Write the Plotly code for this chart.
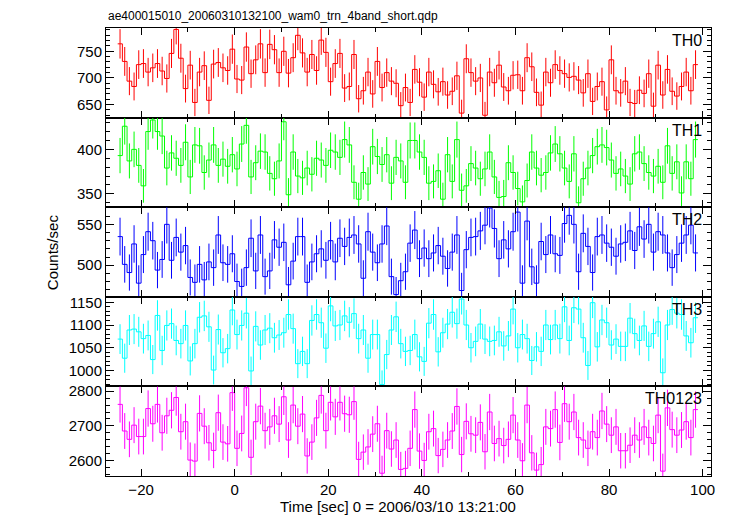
import numpy as np
import plotly.graph_objects as go
from plotly.subplots import make_subplots

# 1-s time bins (left edges, sec from 2006/03/10 13:21:00)
bin_start = list(range(-25, 99))

th0 = [764, 731, 694, 684, 725, 727, 711, 719, 727, 713,
       699, 746, 791, 737, 680, 724, 654, 711, 723, 658,
       726, 729, 719, 714, 754, 698, 696, 758, 708, 734,
       764, 710, 763, 753, 710, 750, 709, 738, 780, 747,
       711, 744, 714, 771, 748, 693, 727, 746, 681, 684,
       744, 661, 676, 711, 670, 731, 682, 710, 694, 690,
       648, 682, 654, 716, 692, 664, 711, 688, 674, 693,
       668, 675, 704, 634, 736, 710, 694, 700, 630, 711,
       691, 724, 683, 676, 705, 706, 676, 738, 721, 673,
       649, 711, 691, 725, 714, 708, 701, 703, 696, 672,
       708, 656, 684, 693, 640, 734, 676, 672, 694, 654,
       652, 677, 671, 708, 647, 724, 668, 716, 675, 666,
       684, 711, 676, 725]

th1 = [393, 426, 387, 400, 382, 359, 420, 433, 420, 415,
       379, 396, 390, 382, 408, 369, 405, 404, 374, 388,
       405, 382, 389, 381, 394, 378, 406, 427, 369, 385,
       398, 397, 373, 367, 387, 431, 349, 397, 370, 368,
       379, 372, 390, 388, 382, 399, 397, 391, 411, 405,
       363, 344, 374, 361, 403, 392, 383, 394, 362, 391,
       387, 363, 410, 410, 397, 391, 362, 364, 376, 344,
       394, 364, 411, 354, 359, 384, 379, 367, 378, 397,
       369, 346, 347, 385, 374, 356, 341, 365, 397, 379,
       371, 374, 396, 406, 395, 379, 364, 395, 340, 367,
       379, 393, 403, 405, 402, 388, 373, 378, 370, 361,
       395, 397, 384, 374, 370, 381, 363, 404, 373, 386,
       351, 386, 367, 411]

th2 = [535, 501, 491, 526, 478, 513, 541, 530, 494, 507,
       550, 506, 534, 516, 524, 485, 479, 501, 482, 504,
       497, 537, 503, 501, 514, 480, 474, 497, 533, 493,
       537, 486, 493, 531, 522, 528, 476, 505, 535, 535,
       479, 504, 514, 520, 506, 530, 504, 533, 523, 534,
       537, 526, 484, 541, 516, 503, 526, 548, 486, 464,
       481, 492, 527, 543, 508, 521, 508, 515, 524, 511,
       496, 516, 537, 469, 519, 534, 535, 542, 549, 570,
       545, 508, 531, 520, 541, 565, 478, 554, 498, 478,
       529, 513, 537, 514, 512, 551, 561, 550, 492, 539,
       523, 491, 535, 537, 527, 522, 511, 526, 528, 542,
       518, 547, 532, 550, 516, 541, 537, 515, 497, 513,
       527, 537, 549, 515]

th3 = [1069, 1027, 1089, 1091, 1085, 1070, 1077, 1024, 1121, 1044,
       1099, 1103, 1066, 1059, 1099, 1021, 1059, 1117, 1120, 1096,
       1001, 1090, 1039, 1048, 1133, 1079, 1099, 1126, 999, 1097,
       1056, 1089, 1093, 1072, 1078, 1083, 1123, 1092, 1015, 1042,
       1015, 1110, 1123, 1105, 1049, 1142, 1098, 1100, 1120, 1106,
       1125, 1070, 1089, 1027, 1079, 1079, 969, 1035, 1089, 1118,
       1059, 1042, 1044, 1079, 1030, 1020, 1104, 1123, 1041, 1083,
       1102, 1128, 1103, 1157, 1100, 1050, 1064, 1102, 1069, 1064,
       1066, 1085, 1054, 1076, 1135, 1050, 1079, 1070, 1022, 1052,
       1042, 1100, 1068, 1100, 1070, 1140, 1066, 1138, 1135, 1072,
       1011, 1149, 1052, 1111, 1105, 1056, 1069, 1053, 1053, 1115,
       1081, 1066, 1098, 1053, 1081, 1107, 995, 1100, 1134, 1126,
       1123, 1076, 1061, 1116]

th0123 = [2762, 2685, 2661, 2702, 2669, 2669, 2750, 2706, 2762, 2680,
          2729, 2745, 2782, 2683, 2712, 2601, 2598, 2736, 2699, 2651,
          2629, 2738, 2653, 2648, 2796, 2635, 2678, 2810, 2609, 2712,
          2757, 2686, 2697, 2729, 2705, 2784, 2659, 2760, 2699, 2734,
          2613, 2653, 2723, 2788, 2686, 2768, 2726, 2768, 2735, 2732,
          2770, 2603, 2624, 2639, 2676, 2706, 2563, 2686, 2633, 2659,
          2574, 2577, 2635, 2747, 2627, 2600, 2683, 2692, 2614, 2632,
          2659, 2685, 2756, 2617, 2713, 2677, 2673, 2710, 2625, 2740,
          2649, 2663, 2643, 2661, 2731, 2659, 2599, 2760, 2622, 2572,
          2588, 2697, 2692, 2747, 2652, 2764, 2712, 2740, 2666, 2659,
          2635, 2683, 2666, 2743, 2705, 2673, 2697, 2628, 2628, 2644,
          2673, 2659, 2697, 2666, 2649, 2731, 2569, 2752, 2689, 2673,
          2688, 2712, 2666, 2747]

panel_names = ["TH0", "TH1", "TH2", "TH3", "TH0123"]
panel_values = [th0, th1, th2, th3, th0123]
panel_colors = ["#ff0000", "#00ff00", "#0000ff", "#00ffff", "#ff00ff"]
y_ranges = [[625.6, 793.7], [335.0, 435.7], [461.3, 571.0], [965.0, 1162.0], [2555.0, 2814.0]]
y_major = [50, 50, 50, 50, 100]
y_minor = [10, 10, 10, 10, 20]

FONT = "Liberation Sans, Arial, Helvetica, sans-serif"

fig = make_subplots(rows=5, cols=1, shared_xaxes=True, vertical_spacing=0)

edges = bin_start + [bin_start[-1] + 1]
centers = [b + 0.5 for b in bin_start]

for i, (name, vals, color) in enumerate(zip(panel_names, panel_values, panel_colors), start=1):
    fig.add_trace(go.Scatter(x=edges, y=vals + [vals[-1]], mode="lines",
                             line=dict(shape="hv", color=color, width=1),
                             hoverinfo="skip", showlegend=False), row=i, col=1)
    err = np.sqrt(np.array(vals, dtype=float))
    fig.add_trace(go.Scatter(x=centers, y=vals, mode="markers",
                             marker=dict(size=1, color=color, opacity=0),
                             error_y=dict(type="data", array=err, color=color,
                                          thickness=1, width=0),
                             hoverinfo="skip", showlegend=False), row=i, col=1)

    fig.update_xaxes(row=i, col=1, range=[-27.5, 101.8], tick0=0, dtick=20,
                     ticks="inside", ticklen=7, tickwidth=1, tickcolor="black",
                     minor=dict(dtick=10, ticks="inside", ticklen=4, tickcolor="black"),
                     showline=True, linecolor="black", linewidth=1, mirror="allticks",
                     showgrid=False, zeroline=False,
                     showticklabels=(i == 5),
                     tickfont=dict(family=FONT, size=15, color="black"))
    fig.update_yaxes(row=i, col=1, range=y_ranges[i - 1], tick0=0, dtick=y_major[i - 1],
                     ticks="inside", ticklen=8, tickwidth=1, tickcolor="black",
                     minor=dict(dtick=y_minor[i - 1], ticks="inside", ticklen=4, tickcolor="black"),
                     showline=True, linecolor="black", linewidth=1, mirror="allticks",
                     showgrid=False, zeroline=False,
                     tickfont=dict(family=FONT, size=15, color="black"))

    yref = "y domain" if i == 1 else f"y{i} domain"
    fig.add_annotation(text=name, xref="paper", yref=yref, x=1, y=1,
                       xanchor="right", yanchor="top", xshift=-7, yshift=-2,
                       showarrow=False, font=dict(family=FONT, size=16, color="black"))

fig.add_annotation(text="ae400015010_20060310132100_wam0_trn_4band_short.qdp",
                   xref="paper", yref="paper", x=0, y=1, xanchor="left", yanchor="bottom",
                   yshift=3, showarrow=False, font=dict(family=FONT, size=12, color="black"))
fig.add_annotation(text="Counts/sec", xref="paper", yref="paper", x=-0.089, y=0.5,
                   textangle=-90, xanchor="center", yanchor="middle", showarrow=False,
                   font=dict(family=FONT, size=15, color="black"))
fig.add_annotation(text="Time [sec] 0 = 2006/03/10 13:21:00", xref="paper", yref="paper",
                   x=0.483, y=-0.069, xanchor="center", yanchor="middle", showarrow=False,
                   font=dict(family=FONT, size=15, color="black"))

# page body has an 8px default margin, so the figure is sized to fit the 729x516 window
fig.update_layout(width=721, height=508, plot_bgcolor="white", paper_bgcolor="white",
                  margin=dict(l=98, r=18, t=20, b=40), showlegend=False)

fig.write_html("out.html")
